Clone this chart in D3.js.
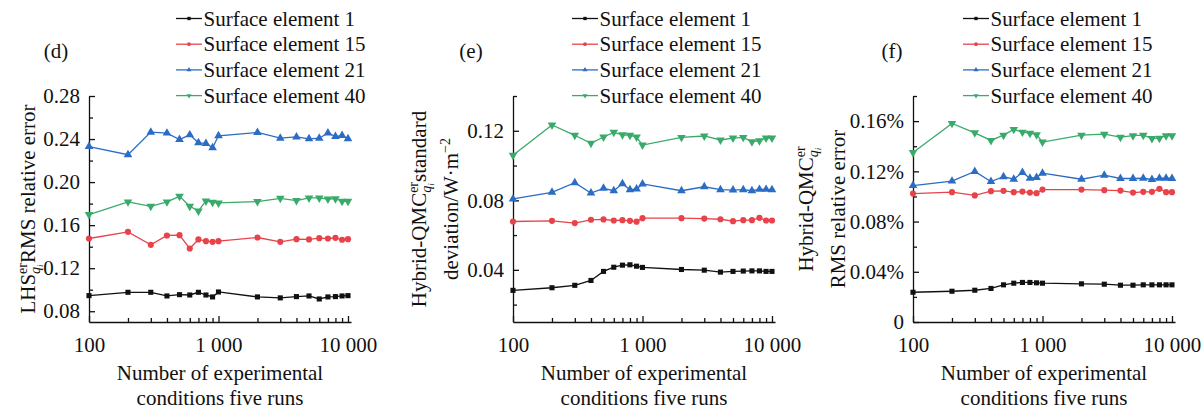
<!DOCTYPE html>
<html>
<head>
<meta charset="utf-8">
<script src="https://cdn.jsdelivr.net/npm/d3@7"></script>
<style>
  html, body { margin: 0; padding: 0; background: #fff; }
  svg { display: block; }
  svg text { font-family: "Liberation Serif", "Times New Roman", Tinos, "DejaVu Serif", serif; }
</style>
</head>
<body>
<svg id="chart" width="1203" height="409"></svg>
<script>
// number of experimental conditions (x, log scale)
const runs = [100, 200, 300, 400, 500, 600, 700, 800, 900, 1000, 2000, 3000, 4000, 5000, 6000, 7000, 8000, 9000, 10000]
const seriesNames = ['Surface element 1', 'Surface element 15', 'Surface element 21', 'Surface element 40']

// (d) LHS RMS relative error
const lhsEl1 = [0.0945, 0.0976, 0.0976, 0.0942, 0.0954, 0.0951, 0.0976, 0.0951, 0.0933, 0.0979, 0.0933, 0.0924, 0.0936, 0.0942, 0.0914, 0.0933, 0.0936, 0.0942, 0.0945]
const lhsEl15 = [0.1476, 0.1538, 0.1417, 0.1504, 0.1507, 0.1383, 0.1467, 0.1451, 0.1445, 0.1451, 0.1485, 0.1445, 0.1470, 0.1467, 0.1479, 0.1476, 0.1482, 0.1464, 0.1470]
const lhsEl21 = [0.2330, 0.2254, 0.2464, 0.2455, 0.2396, 0.2439, 0.2365, 0.2359, 0.2319, 0.2430, 0.2461, 0.2408, 0.2420, 0.2402, 0.2408, 0.2457, 0.2423, 0.2433, 0.2402]
const lhsEl40 = [0.1698, 0.1816, 0.1775, 0.1816, 0.1868, 0.1775, 0.1732, 0.1825, 0.1812, 0.1806, 0.1819, 0.1849, 0.1828, 0.1853, 0.1853, 0.1843, 0.1846, 0.1822, 0.1822]

// (e) Hybrid-QMC standard deviation, W·m^-2
const stdEl1 = [0.0282, 0.0297, 0.0311, 0.0339, 0.0391, 0.0415, 0.0427, 0.0429, 0.0421, 0.0414, 0.0402, 0.0398, 0.0387, 0.0391, 0.0393, 0.0394, 0.0394, 0.0391, 0.0391]
const stdEl15 = [0.0678, 0.0682, 0.0669, 0.0688, 0.0690, 0.0684, 0.0686, 0.0682, 0.0677, 0.0697, 0.0697, 0.0695, 0.0691, 0.0680, 0.0686, 0.0686, 0.0699, 0.0684, 0.0684]
const stdEl21 = [0.0808, 0.0846, 0.0901, 0.0842, 0.0869, 0.0855, 0.0895, 0.0861, 0.0865, 0.0894, 0.0855, 0.0878, 0.0861, 0.0859, 0.0861, 0.0855, 0.0863, 0.0863, 0.0861]
const stdEl40 = [0.1059, 0.1233, 0.1174, 0.1128, 0.1164, 0.1191, 0.1177, 0.1174, 0.1164, 0.1118, 0.1162, 0.1170, 0.1147, 0.1158, 0.1162, 0.1137, 0.1143, 0.1158, 0.1158]

// (f) Hybrid-QMC RMS relative error, in percent
const rmsEl1 = [0.0237, 0.0245, 0.0253, 0.0267, 0.0296, 0.0309, 0.0315, 0.0315, 0.0312, 0.0309, 0.0304, 0.0301, 0.0293, 0.0293, 0.0296, 0.0296, 0.0296, 0.0296, 0.0296]
const rmsEl15 = [0.1023, 0.1034, 0.1008, 0.1042, 0.1045, 0.1034, 0.1039, 0.1031, 0.1026, 0.1055, 0.1055, 0.1050, 0.1047, 0.1031, 0.1037, 0.1037, 0.1061, 0.1034, 0.1034]
const rmsEl21 = [0.1087, 0.1122, 0.1199, 0.1119, 0.1157, 0.1137, 0.1191, 0.1145, 0.1151, 0.1185, 0.1137, 0.1169, 0.1143, 0.1143, 0.1145, 0.1135, 0.1145, 0.1145, 0.1143]
const rmsEl40 = [0.1350, 0.1582, 0.1507, 0.1446, 0.1488, 0.1534, 0.1512, 0.1504, 0.1492, 0.1433, 0.1488, 0.1496, 0.1472, 0.1484, 0.1488, 0.1462, 0.1464, 0.1484, 0.1484]

// axes
const xMajorTicks = [100, 1000, 10000]
const xTickLabels = ['100', '1 000', '10 000']
const xTitleLines = ['Number of experimental', 'conditions five runs']
const lhsTicks = [0.08, 0.12, 0.16, 0.20, 0.24, 0.28]
const lhsMinorTicks = [0.10, 0.14, 0.18, 0.22, 0.26]
const stdTicks = [0.04, 0.08, 0.12]
const stdMinorTicks = [0.02, 0.06, 0.10, 0.14]
const rmsTicks = [0, 0.04, 0.08, 0.12, 0.16]
const rmsMinorTicks = [0.02, 0.06, 0.10, 0.14, 0.18]

const colors = ['#111111', '#e8434b', '#2b6cc4', '#3aaa6b']
const symbols = [d3.symbolSquare, d3.symbolCircle, d3.symbolTriangle, d3.symbolTriangle]
const symbolSizes = [26, 30, 32, 32]
const flip = [0, 0, 0, 180]

const FONT = 21
const TOP = 96
const BOTTOM = 322
const PLOT_W = 262

const panels = [
  {
    tag: '(d)', series: [lhsEl1, lhsEl15, lhsEl21, lhsEl40],
    domain: [0.07, 0.28], ticks: lhsTicks, minor: lhsMinorTicks, fmt: d3.format('.2f'),
    title: [['LHS', {sup: 'er', sub: 'q', subsub: 'i'}, 'RMS relative error']],
    left: 89, legendX: 176, tagX: 56, titleX: [35]
  },
  {
    tag: '(e)', series: [stdEl1, stdEl15, stdEl21, stdEl40],
    domain: [0.01, 0.14], ticks: stdTicks, minor: stdMinorTicks, fmt: d3.format('.2f'),
    title: [['Hybrid-QMC', {sup: 'er', sub: 'q', subsub: 'i'}, 'standard'], ['deviation/W·m', {sup: '−2'}]],
    left: 513, legendX: 572, tagX: 471, titleX: [426, 458]
  },
  {
    tag: '(f)', series: [rmsEl1, rmsEl15, rmsEl21, rmsEl40],
    domain: [0, 0.18], ticks: rmsTicks, minor: rmsMinorTicks, fmt: v => v === 0 ? '0' : d3.format('.2f')(v) + '%',
    title: [['Hybrid-QMC', {sup: 'er', sub: 'q', subsub: 'i'}], ['RMS relative error']],
    left: 913, legendX: 963, tagX: 892, titleX: [813, 845]
  }
]

const svg = d3.select('#chart')

// rotated axis title with stacked super/subscripts
function richLine(g, parts, bx, cy) {
  const text = g.append('text')
    .attr('transform', `translate(${bx},${cy}) rotate(-90)`)
    .attr('text-anchor', 'middle')
    .attr('font-size', FONT)
    .attr('fill', '#111')
  let shift = 0
  let pendingDx = 0
  parts.forEach(p => {
    if (typeof p === 'string') {
      text.append('tspan').attr('dy', -shift).attr('dx', pendingDx).text(p)
      shift = 0
      pendingDx = 0
      return
    }
    const sup = text.append('tspan').attr('font-size', 14).attr('dy', -8 - shift).text(p.sup)
    shift = -8
    if (!p.sub) return
    const w1 = sup.node().getComputedTextLength()
    const sub = text.append('tspan').attr('font-size', 14).attr('font-style', 'italic')
      .attr('dx', -w1).attr('dy', 5 - shift).text(p.sub)
    const w2 = sub.node().getComputedTextLength()
    const subsub = text.append('tspan').attr('font-size', 9).attr('font-style', 'italic')
      .attr('dy', 3).text(p.subsub)
    const w3 = subsub.node().getComputedTextLength()
    shift = 8
    pendingDx = Math.max(0, w1 - w2 - w3)
  })
}

function drawPanel(p) {
  const g = svg.append('g')
  const x = d3.scaleLog().domain([100, 10550]).range([p.left, p.left + PLOT_W])
  const y = d3.scaleLinear().domain(p.domain).range([BOTTOM, TOP])

  // x axis, ticks pointing inward
  g.append('g').attr('transform', `translate(0,${BOTTOM})`)
    .call(d3.axisBottom(x).tickValues(xMajorTicks).tickFormat((d, i) => xTickLabels[i])
      .tickSize(-6).tickSizeOuter(0).tickPadding(15))
  g.append('g').attr('transform', `translate(0,${BOTTOM})`)
    .call(d3.axisBottom(x).tickValues(runs.filter(r => !xMajorTicks.includes(r)))
      .tickFormat('').tickSize(-4).tickSizeOuter(0))
    .select('.domain').remove()

  // y axis
  g.append('g').attr('transform', `translate(${p.left},0)`)
    .call(d3.axisLeft(y).tickValues(p.ticks).tickFormat(p.fmt)
      .tickSize(-6).tickSizeOuter(0).tickPadding(9))
  g.append('g').attr('transform', `translate(${p.left},0)`)
    .call(d3.axisLeft(y).tickValues(p.minor).tickFormat('').tickSize(-4).tickSizeOuter(0))
    .select('.domain').remove()

  g.selectAll('.domain, .tick line').attr('stroke', '#111').attr('stroke-width', 1.3)
  g.selectAll('.tick text').attr('font-size', FONT).attr('fill', '#111')

  // series
  const line = d3.line().x((d, i) => x(runs[i])).y(d => y(d))
  p.series.forEach((vals, si) => {
    g.append('path').datum(vals)
      .attr('d', line)
      .attr('fill', 'none')
      .attr('stroke', colors[si])
      .attr('stroke-width', 1.3)
    g.selectAll(null).data(vals).join('path')
      .attr('d', d3.symbol(symbols[si], symbolSizes[si]))
      .attr('transform', (d, i) => `translate(${x(runs[i])},${y(d)}) rotate(${flip[si]})`)
      .attr('fill', colors[si])
  })

  // legend
  seriesNames.forEach((name, si) => {
    const cy = 18.5 + si * 25.7
    const lg = g.append('g').attr('transform', `translate(${p.legendX},${cy})`)
    lg.append('line').attr('x1', 0).attr('x2', 26).attr('stroke', colors[si]).attr('stroke-width', 1.3)
    lg.append('path').attr('d', d3.symbol(symbols[si], 11))
      .attr('transform', `translate(13,0) rotate(${flip[si]})`).attr('fill', colors[si])
    lg.append('text').attr('x', 27.5).attr('y', 7).attr('font-size', FONT).attr('fill', '#111').text(name)
  })

  // panel tag
  g.append('text').attr('x', p.tagX).attr('y', 58).attr('text-anchor', 'middle')
    .attr('font-size', FONT).attr('fill', '#111').text(p.tag)

  // axis titles
  const cx = p.left + PLOT_W / 2
  xTitleLines.forEach((t, i) => {
    g.append('text').attr('x', cx).attr('y', 380 + i * 25).attr('text-anchor', 'middle')
      .attr('font-size', FONT).attr('fill', '#111').text(t)
  })
  p.title.forEach((parts, i) => richLine(g, parts, p.titleX[i], (TOP + BOTTOM) / 2))
}

panels.forEach(drawPanel)
</script>
</body>
</html>
